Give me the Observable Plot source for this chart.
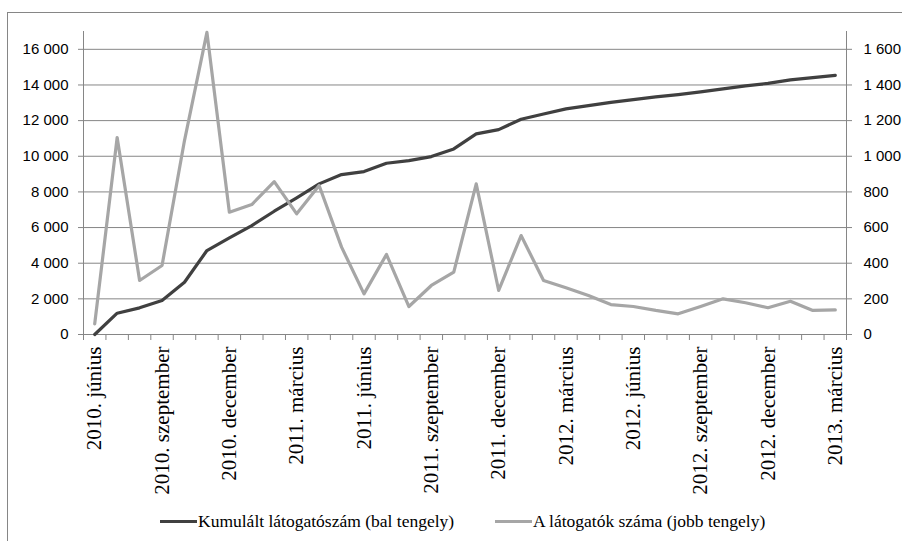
<!DOCTYPE html>
<html>
<head>
<meta charset="utf-8">
<script src="https://cdn.jsdelivr.net/npm/d3@7"></script>
<script src="https://cdn.jsdelivr.net/npm/@observablehq/plot@0.6"></script>
<style>
  html, body { margin: 0; padding: 0; background: #fff; width: 902px; height: 541px; overflow: hidden; }
  #frame { position: absolute; left: 7px; top: 12px; width: 910px; height: 560px; border-left: 1px solid #868686; border-top: 1px solid #868686; }
  #chart { position: absolute; left: 0; top: 0; }
  .leg { position: absolute; top: 509px; font-family: "Liberation Serif", "Times New Roman", serif; font-size: 17.5px; color: #000; white-space: nowrap; line-height: 24px; display: flex; align-items: center; }
  .sw { display: inline-block; width: 37px; height: 3px; margin-right: 1px; }
</style>
</head>
<body>
<div id="frame"></div>
<div id="chart"></div>
<div class="leg" style="left:160px"><span class="sw" style="background:#404040"></span><span id="l1"></span></div>
<div class="leg" style="left:495px"><span class="sw" style="background:#a6a6a6"></span><span id="l2"></span></div>
<script>
// Category labels (months)
const months = [
  "2010. június", "2010. július", "2010. augusztus", "2010. szeptember", "2010. október", "2010. november",
  "2010. december", "2011. január", "2011. február", "2011. március", "2011. április", "2011. május",
  "2011. június", "2011. július", "2011. augusztus", "2011. szeptember", "2011. október", "2011. november",
  "2011. december", "2012. január", "2012. február", "2012. március", "2012. április", "2012. május",
  "2012. június", "2012. július", "2012. augusztus", "2012. szeptember", "2012. október", "2012. november",
  "2012. december", "2013. január", "2013. február", "2013. március"
];
// Cumulative visitors (left axis)
const cumulative = [0, 1195, 1495, 1907, 2933, 4711, 5421, 6113, 6916, 7664, 8450, 8973,
  9141, 9608, 9758, 9982, 10413, 11253, 11496, 12076, 12375, 12656, 12842, 13028,
  13179, 13328, 13460, 13610, 13778, 13946, 14093, 14283, 14412, 14541];
// Monthly visitors (right axis)
const visitors = [60, 1105, 303, 387, 1088, 1695, 686, 729, 858, 677, 836, 490,
  228, 449, 157, 275, 350, 845, 247, 555, 303, 262, 219, 168,
  157, 135, 116, 157, 200, 178, 150, 187, 135, 138];
const leftTicks = [0, 2000, 4000, 6000, 8000, 10000, 12000, 14000, 16000];
const labelEvery = 3;
const seriesNames = ["Kumulált látogatószám (bal tengely)", "A látogatók száma (jobb tengely)"];

document.getElementById("l1").textContent = seriesNames[0];
document.getElementById("l2").textContent = seriesNames[1];

const data = months.map((m, i) => ({i, m, c: cumulative[i], v: visitors[i]}));
const ratio = 10; // right axis (0–1700) maps onto left axis (0–17000)
const fmt = d => d3.format(",")(d).replace(/,/g, "\u00a0");
const n = months.length;
const boundaries = d3.range(n + 1).map(i => i - 0.5);
const labelTicks = d3.range(0, n, labelEvery);
const gridColor = "#868686";

const chart = Plot.plot({
  width: 902,
  height: 500,
  marginTop: 31,
  marginBottom: 166,
  marginLeft: 83,
  marginRight: 56,
  style: {background: "transparent", color: "#000", fontFamily: "'Liberation Sans', Arial, sans-serif", fontSize: "15px"},
  x: {type: "linear", domain: [-0.5, n - 0.5]},
  y: {domain: [0, 17000]},
  marks: [
    Plot.gridY(leftTicks, {stroke: gridColor, strokeOpacity: 1, strokeWidth: 1}),
    Plot.ruleX([-0.5, n - 0.5], {stroke: gridColor, strokeWidth: 1}),
    Plot.axisY(leftTicks, {anchor: "left", tickSize: 5, tickPadding: 10, tickFormat: fmt, label: null, stroke: gridColor, fontSize: 15}),
    Plot.axisY(leftTicks, {anchor: "right", tickSize: 5, tickPadding: 12, tickFormat: d => fmt(d / ratio), label: null, stroke: gridColor, fontSize: 15}),
    Plot.axisX(boundaries, {anchor: "bottom", tickSize: 6, tickFormat: () => "", label: null, stroke: gridColor}),
    Plot.axisX(labelTicks, {anchor: "bottom", tickSize: 0, tickPadding: 12, tickRotate: -90, tickFormat: i => months[i], label: null, fontSize: 21, fontFamily: "'Liberation Serif', 'Times New Roman', serif"}),
    Plot.line(data, {x: "i", y: "c", stroke: "#404040", strokeWidth: 3.2, strokeLinejoin: "round"}),
    Plot.line(data, {x: "i", y: d => d.v * ratio, stroke: "#a6a6a6", strokeWidth: 3.2, strokeLinejoin: "round"})
  ]
});
document.getElementById("chart").appendChild(chart);
</script>
</body>
</html>
